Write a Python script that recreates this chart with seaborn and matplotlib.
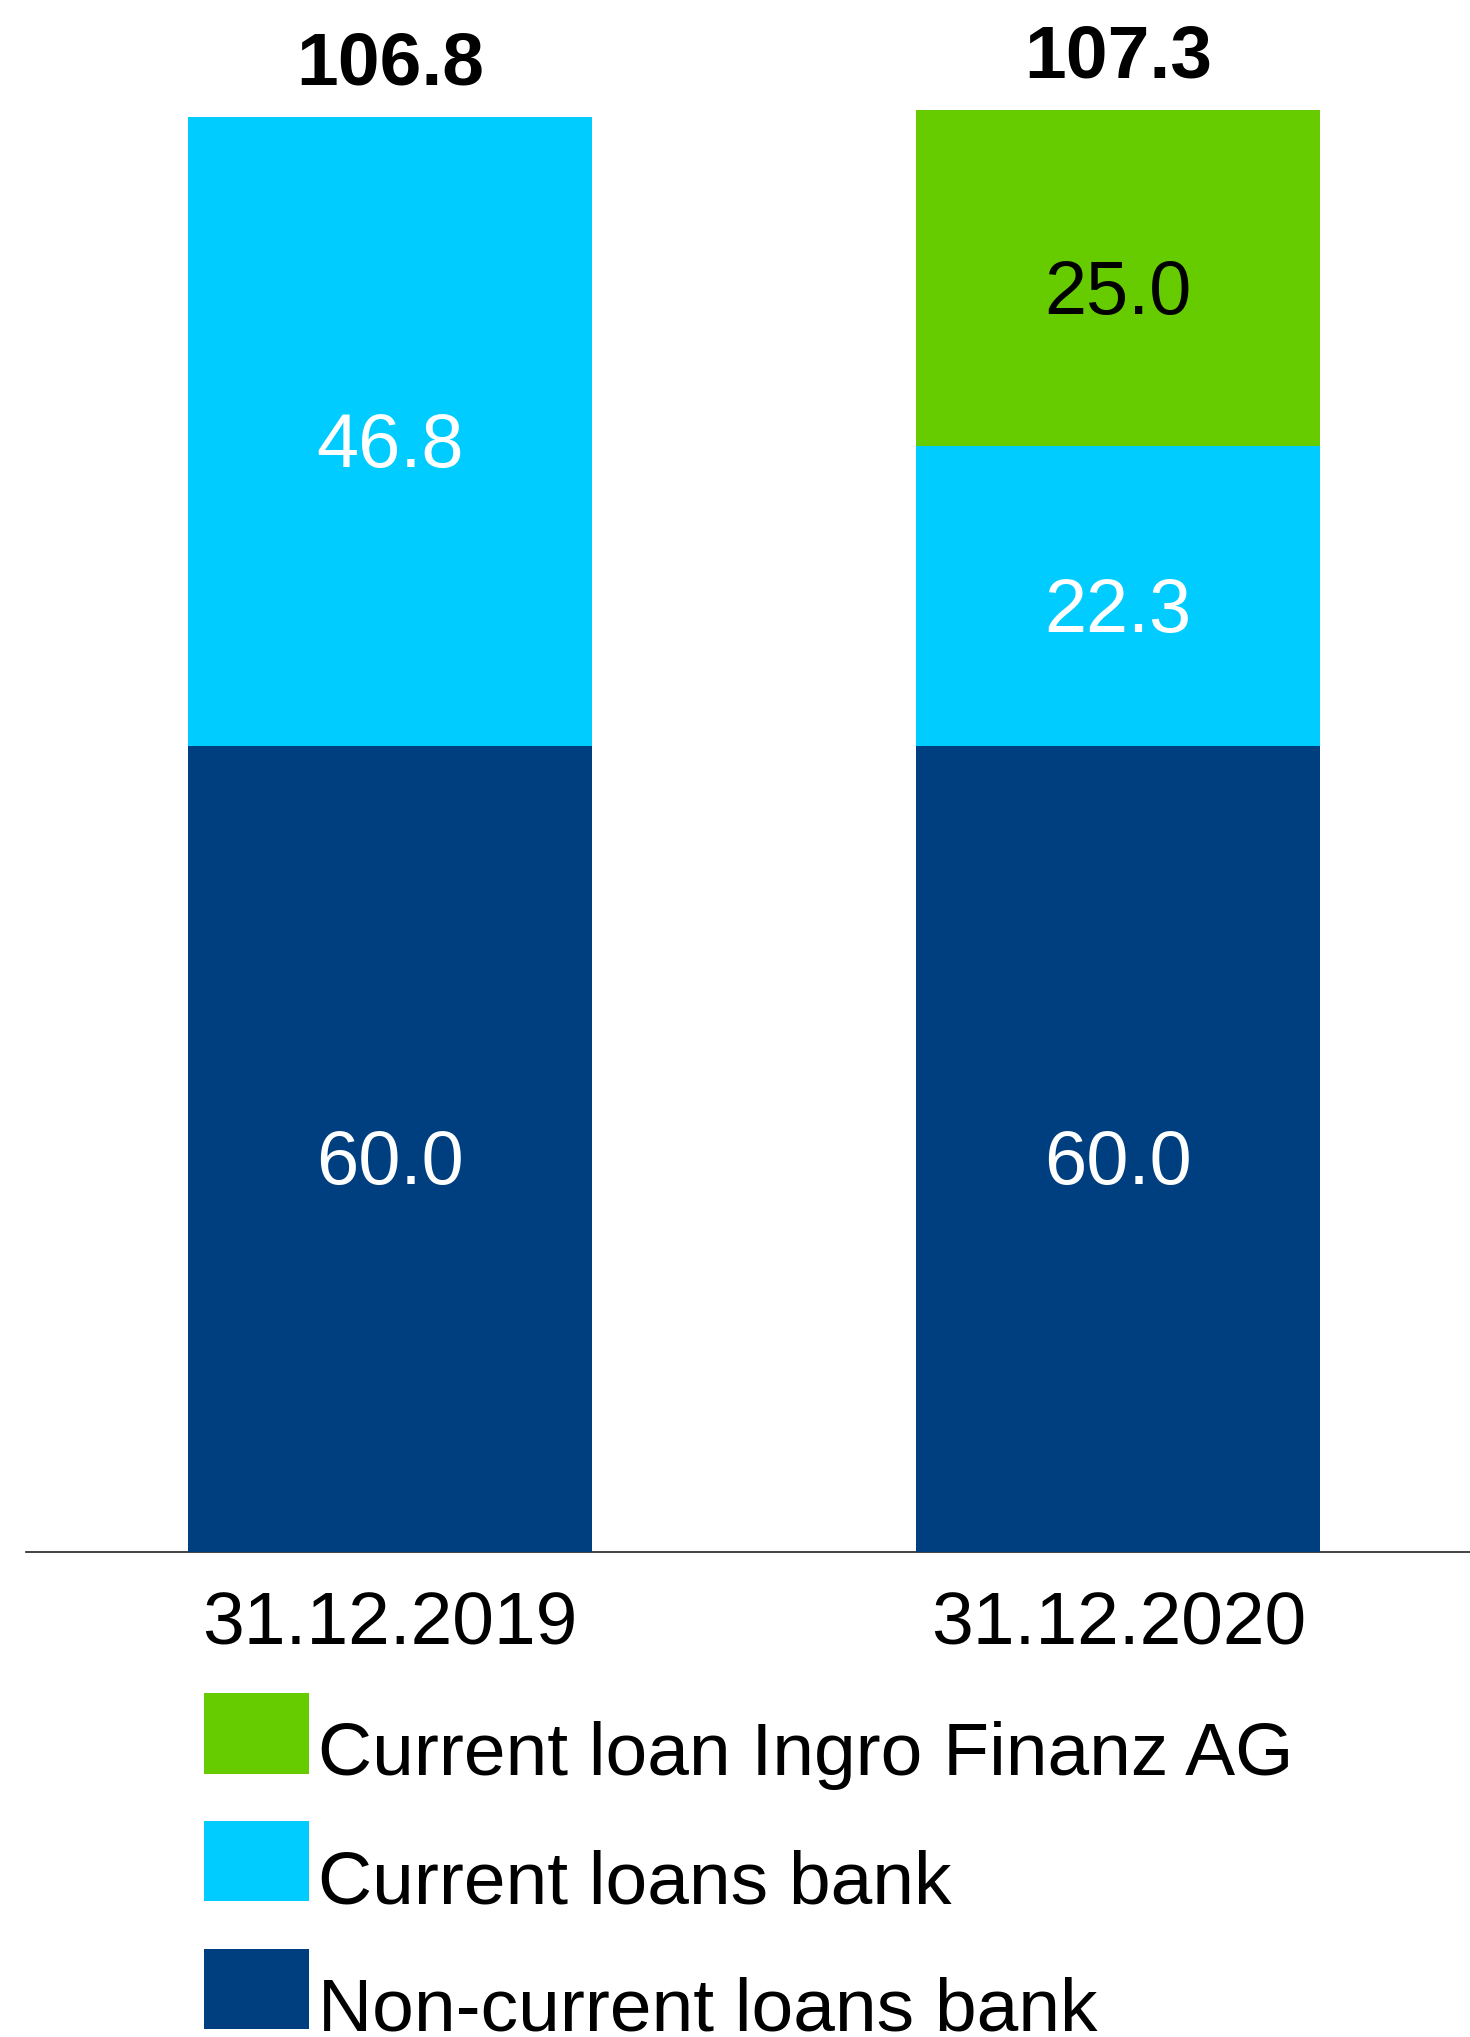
"""
Loans by type, stacked bars for two balance-sheet dates
"""

import numpy as np
import pandas as pd
import seaborn as sns
import matplotlib.pyplot as plt
from matplotlib.patches import Rectangle
from matplotlib.container import BarContainer
from matplotlib.legend_handler import HandlerPatch, update_from_first_child

categories = ["31.12.2019", "31.12.2020"]
noncurrent_bank = [60.0, 60.0]
current_bank = [46.8, 22.3]
ingro_finanz = [0.0, 25.0]

series_names = ["Non-current loans bank", "Current loans bank", "Current loan Ingro Finanz AG"]
series_colors = ["#003F7F", "#00CCFF", "#66CC00"]
label_colors = ["white", "white", "black"]

FONT_SIZE = 54
LEGEND_SHIFT = 12  # points, lifts the swatch against its label


def shifted_patch(legend, orig_handle, xdescent, ydescent, width, height, fontsize):
    return Rectangle((-xdescent, -ydescent + LEGEND_SHIFT), width, height)


def run() -> None:
    sns.set_style("white")
    plt.rcParams["font.family"] = ["Liberation Sans", "DejaVu Sans"]
    plt.rcParams["text.color"] = "black"
    plt.rcParams["xtick.color"] = "black"

    df = pd.DataFrame({
        "Date": categories,
        series_names[0]: noncurrent_bank,
        series_names[1]: current_bank,
        series_names[2]: ingro_finanz,
    })
    stacked = df[series_names].cumsum(axis=1)
    totals = stacked[series_names[-1]].values

    fig = plt.figure(figsize=(14.7, 20.37), dpi=100)
    ax = fig.add_axes([26 / 1470, 1 - 1552 / 2037, 1 - 26 / 1470, 1552 / 2037])

    # draw cumulative layers from the top down so lower ones cover upper ones
    for name, color in reversed(list(zip(series_names, series_colors))):
        sns.barplot(x=df["Date"], y=stacked[name], color=color, width=0.555,
                    ax=ax, label=name, saturation=1, zorder=2,
                    linewidth=0, edgecolor="none")

    # segment labels
    for i in range(len(categories)):
        bottom = 0.0
        for name, lc in zip(series_names, label_colors):
            val = df[name].iloc[i]
            if val > 0:
                ax.text(i, bottom + val / 2 - 2.65, f"{val:.1f}", ha="center",
                        va="baseline", color=lc, fontsize=FONT_SIZE + 0.5)
            bottom += val
        ax.text(i, totals[i] + 2.4, f"{totals[i]:.1f}", ha="center", va="baseline",
                color="black", fontsize=FONT_SIZE, fontweight="bold")

    ax.set_xlim(-0.5, 1.483)
    ax.set_ylim(0, 115.5)
    ax.set_xlabel("")
    ax.set_ylabel("")
    ax.set_yticks([])
    ax.tick_params(axis="x", length=0, pad=28, labelsize=FONT_SIZE, labelcolor="black")
    for side in ["top", "right", "left"]:
        ax.spines[side].set_visible(False)
    ax.spines["bottom"].set_color("#222222")
    ax.spines["bottom"].set_linewidth(1.2)
    ax.spines["bottom"].set_zorder(1)

    handles, labels = ax.get_legend_handles_labels()
    if ax.legend_:
        ax.legend_.remove()
    handler = HandlerPatch(patch_func=shifted_patch, update_func=update_from_first_child)
    fig.legend(handles, labels, loc="upper left",
               bbox_to_anchor=(204 / 1470, 1 - 1710 / 2037),
               frameon=False, fontsize=FONT_SIZE, handlelength=1.40,
               handleheight=1.27, handletextpad=0.12, labelspacing=0.633,
               borderpad=0, borderaxespad=0, labelcolor="black",
               handler_map={BarContainer: handler, Rectangle: handler})

    fig.savefig("out.png", dpi=100)


if __name__ == "__main__":
    run()
